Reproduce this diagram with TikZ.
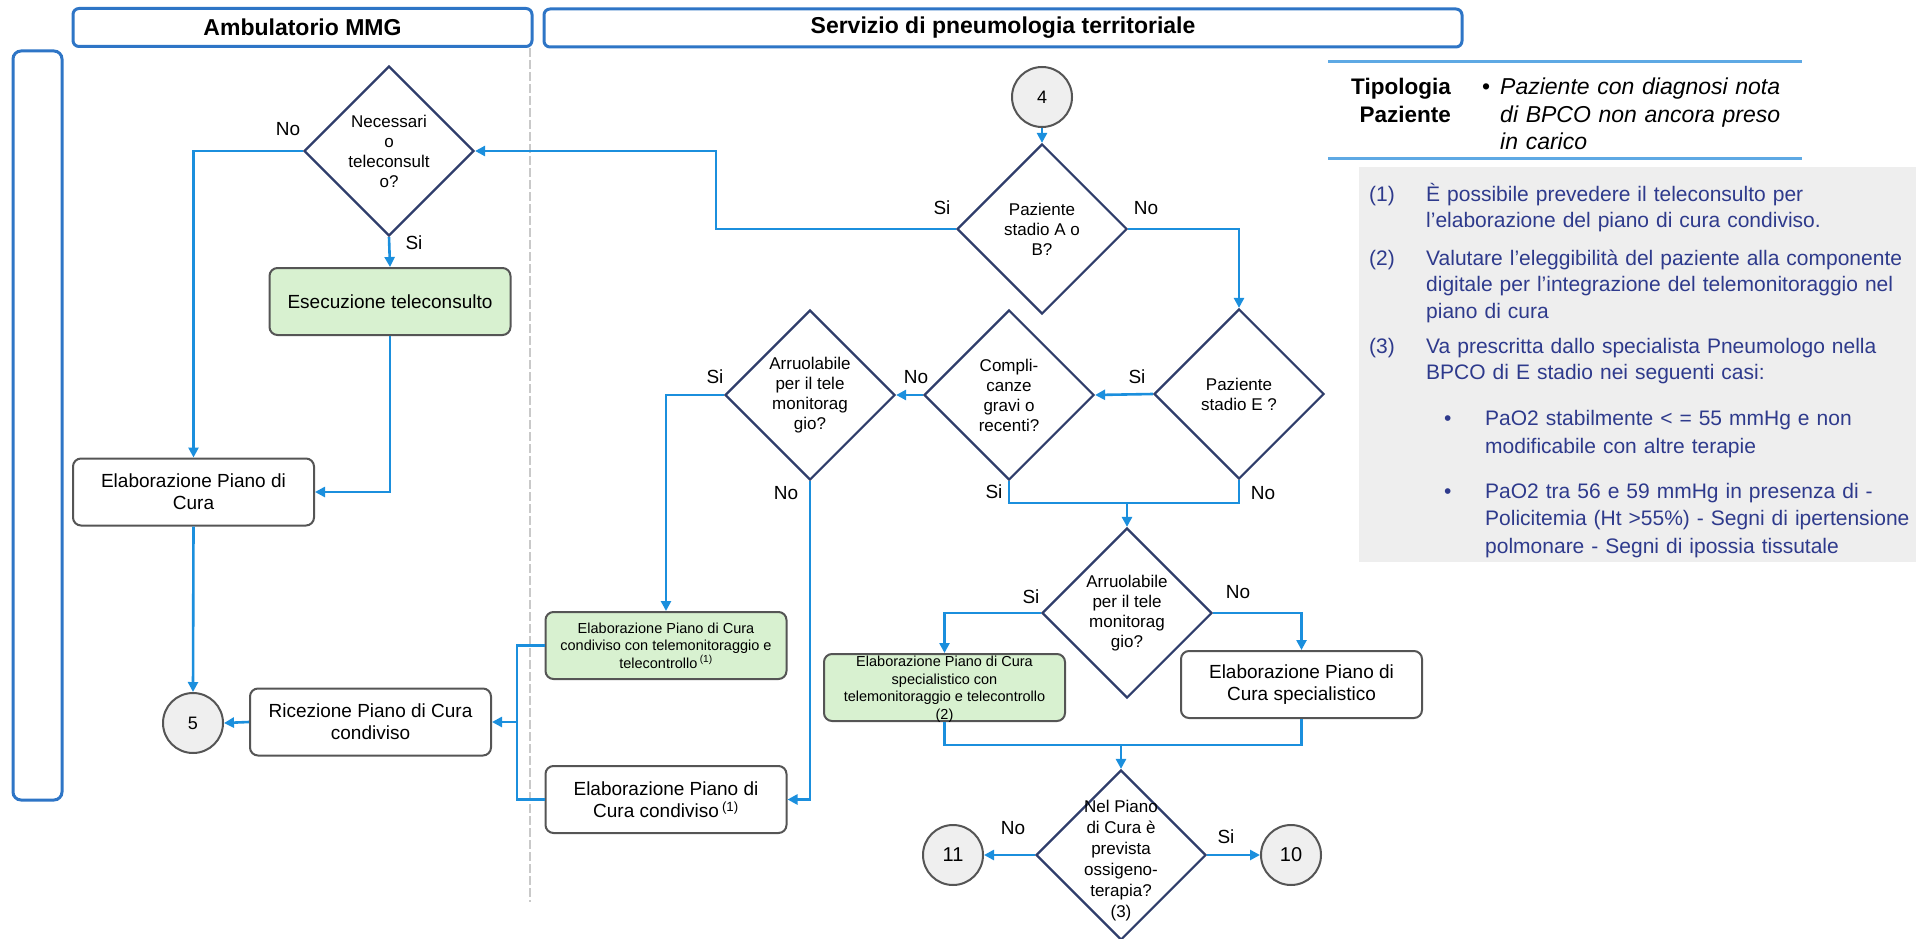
\documentclass[tikz,border=0pt]{standalone}
\usepackage{fontspec}
\setmainfont{Liberation Sans}
\usetikzlibrary{arrows.meta,shapes.geometric}

\definecolor{laneblue}{HTML}{2E75C6}
\definecolor{flowblue}{HTML}{1B8FDD}
\definecolor{decnavy}{HTML}{2F3D6B}
\definecolor{boxgray}{HTML}{555555}
\definecolor{okgreen}{HTML}{D8F1D0}
\definecolor{conngray}{HTML}{EFEFEF}
\definecolor{notegray}{HTML}{EEEEEE}
\definecolor{notenavy}{HTML}{2E3A8C}
\definecolor{tipblue}{HTML}{5EA9E4}
\definecolor{dashgray}{HTML}{C9C9C9}

\newcommand{\fsz}[2]{\fontsize{#1}{#2}\selectfont}

\tikzset{
  lane/.style={draw=laneblue, fill=white, line width=3pt, rounded corners=6pt,
    minimum height=38pt, inner sep=0pt, font=\fsz{23}{27}\bfseries},
  dec/.style={diamond, draw=decnavy, fill=white, line width=2.2pt,
    minimum width=170pt, minimum height=170pt, inner sep=0pt},
  dectext/.style={align=center, inner sep=0pt, font=\fsz{17}{20}},
  box/.style={draw=boxgray, fill=white, line width=2pt, rounded corners=8pt,
    minimum width=241pt, minimum height=67pt, inner sep=2pt, align=center,
    font=\fsz{19}{22}},
  gbox/.style={box, fill=okgreen},
  smalltxt/.style={font=\fsz{14.5}{17.5}},
  conn/.style={circle, draw=boxgray, fill=conngray, line width=2pt,
    minimum size=60pt, inner sep=0pt, font=\fsz{18}{20}},
  yn/.style={inner sep=0pt, font=\fsz{19}{20}},
  wire/.style={draw=flowblue, line width=2.6pt},
  flow/.style={wire, -{Triangle[length=10pt,width=10pt]}},
  notetxt/.style={anchor=base west, inner sep=0pt, align=left, text=notenavy,
    font=\fsz{21}{26.5}},
}

\begin{document}
\begin{tikzpicture}[x=1pt,y=-1pt]
\useasboundingbox (0,0) rectangle (1916,939);

%lanes
\node[lane, minimum width=459pt] (hAmb) at (302.5,27.5) {Ambulatorio MMG};
\node[lane, minimum width=918pt] (hServ) at (1003,28) {Servizio di pneumologia territoriale};
\draw[laneblue, line width=3pt, rounded corners=8pt] (13,51) rectangle (62,800);
\draw[dashgray, line width=2pt, dash pattern=on 9pt off 3pt] (530,48) -- (530,902);

%ambulatorio
\node[dec] (dNec) at (389,151) {};
\node[dectext] (tNec) at (dNec) {Necessari\\o\\teleconsult\\o?};
\node[gbox] (gTele) at (390,301.5) {Esecuzione teleconsulto};
\node[box] (bElab) at (193.5,492) {Elaborazione Piano di\\Cura};
\node[conn] (c5) at (193,723) {5};
\node[box] (bRic) at (370.5,722) {Ricezione Piano di Cura\\condiviso};

%pneumologia
\node[conn] (c4) at (1042,97) {4};
\node[dec] (dAB) at (1042,229) {};
\node[dectext] (tAB) at (dAB) {Paziente\\stadio A o\\B?};
\node[dec] (dE) at (1239,394) {};
\node[dectext] (tE) at (dE) {Paziente\\stadio E ?};
\node[dec] (dCom) at (1009,395) {};
\node[dectext] (tCom) at (dCom) {Compli-\\canze\\gravi o\\recenti?};
\node[dec] (dArr1) at (810,395) {};
\node[dectext] (tArr1) at (dArr1) {Arruolabile\\per il tele\\monitorag\\gio?};
\node[gbox, smalltxt] (gCond) at (666,645.5) {Elaborazione Piano di Cura\\condiviso con telemonitoraggio e\\telecontrollo\,\textsuperscript{(1)}};
\node[box] (bCond) at (666,799.5) {Elaborazione Piano di\\Cura condiviso\,\textsuperscript{(1)}};
\node[dec] (dArr2) at (1127,613) {};
\node[dectext] (tArr2) at (dArr2) {Arruolabile\\per il tele\\monitorag\\gio?};
\node[gbox] (gSpec) at (944.5,687.5) {};
\node[dectext, smalltxt] (tSpec) at (944.5,689) {Elaborazione Piano di Cura\\specialistico con\\telemonitoraggio e telecontrollo\\(2)};
\node[box] (bSpec) at (1301.5,684.5) {Elaborazione Piano di\\Cura specialistico};
\node[dec] (dOss) at (1121,855) {};
\node[dectext, font=\fsz{17}{21}] (tOss) at (1121,861) {Nel Piano\\di Cura è\\prevista\\ossigeno-\\terapia?\\(3)};
\node[conn, font=\fsz{20}{22}] (c11) at (953,855) {11};
\node[conn, font=\fsz{20}{22}] (c10) at (1291,855) {10};

%junctions
\coordinate (kAB) at (716,229);
\coordinate (jM) at (1127,503);
\coordinate (jB) at (1121,745);
\coordinate (jL) at (517,722);

%connectors
\draw[flow] (dNec.west) -| (bElab.north);
\draw[flow] (dNec.south) -- (gTele.north);
\draw[flow] (gTele.south) |- (bElab.east);
\draw[flow] (bElab.south) -- (c5.north);
\draw[flow] (bRic.west) -- (c5.east);
\draw[wire] (gCond.west) -| (jL) |- (bCond.west);
\draw[flow] (jL) -- (bRic.east);
\draw[flow] (c4.south) -- (dAB.north);
\draw[flow] (dAB.west) -- (kAB) |- (dNec.east);
\draw[flow] (dAB.east) -| (dE.north);
\draw[flow] (dE.west) -- (dCom.east);
\draw[flow] (dCom.west) -- (dArr1.east);
\draw[flow] (dArr1.west) -| (gCond.north);
\draw[flow] (dArr1.south) |- (bCond.east);
\draw[wire] (dCom.south) |- (jM) -| (dE.south);
\draw[flow] (jM) -- (dArr2.north);
\draw[flow] (dArr2.west) -| (gSpec.north);
\draw[flow] (dArr2.east) -| (bSpec.north);
\draw[wire] (gSpec.south) |- (jB) -| (bSpec.south);
\draw[flow] (jB) -- (dOss.north);
\draw[flow] (dOss.west) -- (c11.east);
\draw[flow] (dOss.east) -- (c10.west);

%si / no
\node[yn] (lNecNo) at (288,129) {No};
\node[yn] (lNecSi) at (414,243) {Si};
\node[yn] (lABSi) at (942,208) {Si};
\node[yn] (lABNo) at (1146,208) {No};
\node[yn] (lESi) at (1137,377) {Si};
\node[yn] (lENo) at (1263,493) {No};
\node[yn] (lComNo) at (916,377) {No};
\node[yn] (lComSi) at (994,492) {Si};
\node[yn] (lArr1Si) at (715,377) {Si};
\node[yn] (lArr1No) at (786,493) {No};
\node[yn] (lArr2Si) at (1031,597) {Si};
\node[yn] (lArr2No) at (1238,592) {No};
\node[yn] (lOssNo) at (1013,828) {No};
\node[yn] (lOssSi) at (1226,837) {Si};

%tipologia
\draw[tipblue, line width=3pt] (1328,62) -- (1802,62);
\draw[tipblue, line width=3pt] (1328,158) -- (1802,158);
\node[anchor=base east, inner sep=0pt, text width=120pt, align=right,
  font=\fsz{22.5}{27.5}\bfseries] (tipo) at (1451,95) {Tipologia\\Paziente};
\node[anchor=base west, inner sep=0pt, font=\fsz{23}{27.5}] (tipoB) at (1482,95) {•};
\node[anchor=base west, inner sep=0pt, text width=320pt, align=left,
  font=\fsz{23}{27.5}\itshape] (tipoT) at (1500,95) {Paziente con diagnosi nota\\di BPCO non ancora preso\\in carico};

%note
\fill[notegray] (1359,167) rectangle (1916,562);
\node[notetxt] (n1) at (1369,201) {(1)};
\node[notetxt, text width=500pt] (t1) at (1426,201) {È possibile prevedere il teleconsulto per\\l’elaborazione del piano di cura condiviso.};
\node[notetxt] (n2) at (1369,265) {(2)};
\node[notetxt, text width=500pt] (t2) at (1426,265) {Valutare l’eleggibilità del paziente alla componente\\digitale per l’integrazione del telemonitoraggio nel\\piano di cura};
\node[notetxt] (n3) at (1369,353) {(3)};
\node[notetxt, text width=500pt] (t3) at (1426,353) {Va prescritta dallo specialista Pneumologo nella\\BPCO di E stadio nei seguenti casi:};
\node[notetxt] (b1) at (1444,425) {•};
\node[notetxt, text width=440pt, font=\fsz{21}{28}] (t4) at (1485,425) {PaO2 stabilmente < = 55 mmHg e non\\modificabile con altre terapie};
\node[notetxt] (b2) at (1444,498) {•};
\node[notetxt, text width=440pt, font=\fsz{21}{27.5}] (t5) at (1485,498) {PaO2 tra 56 e 59 mmHg in presenza di -\\Policitemia (Ht >55\%) - Segni di ipertensione\\polmonare - Segni di ipossia tissutale};
\end{tikzpicture}
\end{document}
